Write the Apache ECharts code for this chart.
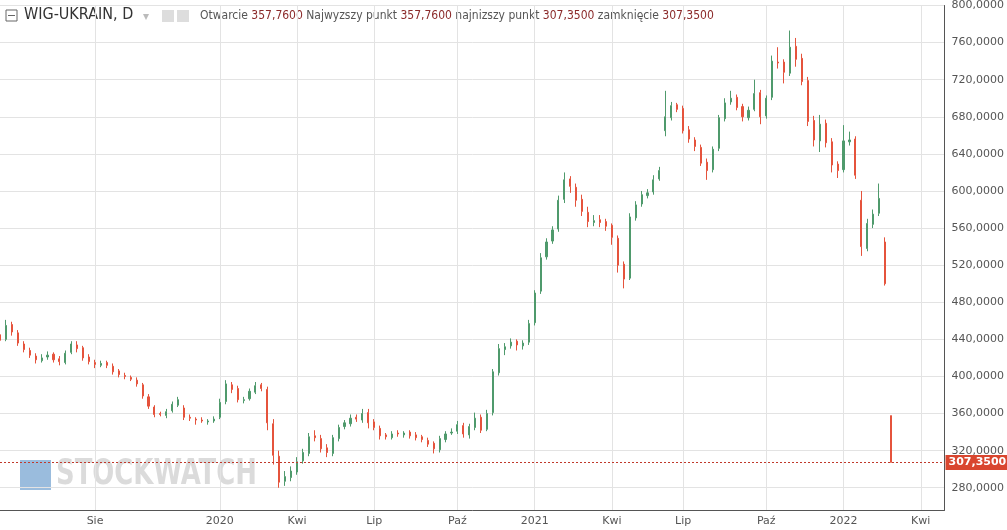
<!DOCTYPE html>
<html><head><meta charset="utf-8">
<script src="https://cdn.jsdelivr.net/npm/echarts@6/dist/echarts.min.js"></script>
<style>html,body{margin:0;padding:0;background:#fff}#c{width:1007px;height:530px}</style>
</head><body><div id="c"></div>
<script>
const opens = [445,440,456,447,435,428,422,417,421,424, 419,415,426,434,431,421,415,412,415,411, 406,401,399,396,391,378,367,360,358,363, 369,366,356,354,353,351,352,356,373,391, 387,374,376,383,391,386,349,314,287,291, 297,309,317,336,333,323,317,333,346,349, 356,353,361,351,344,337,334,339,337,340, 337,335,331,328,321,332,339,341,347,337, 345,356,343,361,404,429,433,438,433,437, 458,492,529,546,559,591,613,604,591,577, 566,569,567,563,549,521,506,571,586,595, 599,613,665,679,693,689,666,655,647,631, 623,646,678,696,701,691,679,688,706,681, 701,739,739,727,756,743,719,676,654,673, 653,629,623,653,656,590,538,564,576,545, 357.76];
const closes = [439,455,448,436,429,423,418,420,423,418, 416,425,435,430,420,416,413,414,412,405, 402,400,397,392,379,368,359,359,362,370, 375,356,355,353,352,352,354,372,392,386, 375,375,384,390,387,350,315,286,292,298, 308,318,335,334,322,318,334,345,350,355, 354,360,350,345,336,335,338,338,339,336, 334,332,327,322,333,338,340,348,338,346, 355,342,360,405,430,432,437,434,436,457, 490,528,545,558,590,612,605,590,578,567, 568,566,562,550,520,505,572,585,596,598, 612,622,680,692,688,665,656,648,630,622, 645,679,695,700,690,680,687,705,680,700, 740,738,728,755,742,718,675,655,672,652, 628,622,654,655,617,540,565,575,592,500, 307.35];
const highs = [450,461,459,450,438,431,425,424,427,426, 422,428,438,438,433,424,418,417,417,414, 408,404,401,399,393,381,369,362,365,373, 378,369,359,356,356,354,357,376,396,394, 390,378,387,394,393,389,354,320,298,303, 313,322,339,342,337,327,337,348,353,359, 359,365,365,354,347,339,341,342,341,342, 340,337,334,330,336,341,344,352,350,349, 361,359,364,408,435,436,441,440,439,461, 493,533,549,562,595,620,616,608,596,583, 574,574,570,565,552,524,576,589,600,602, 617,626,708,696,695,692,670,658,650,635, 648,682,700,708,704,694,691,720,709,703, 746,755,742,773,765,748,723,681,682,677, 657,632,671,664,659,600,570,580,608,550, 357.76];
const lows = [436,438,444,433,426,420,414,415,418,415, 412,413,424,426,417,413,409,410,409,402, 399,397,395,389,376,365,356,357,355,361, 367,353,352,348,350,348,350,354,370,382, 372,371,374,381,384,342,305,280,282,287, 294,306,314,330,318,313,314,330,343,346, 351,350,344,342,332,332,332,335,334,333, 331,329,324,317,318,329,337,338,334,333, 342,339,341,358,401,423,430,428,429,434, 455,489,526,543,556,587,598,583,573,561, 562,561,557,542,512,495,504,568,583,592, 596,611,659,676,685,662,652,643,627,612, 620,643,675,693,687,675,676,686,672,678, 698,732,716,724,734,714,670,648,642,647, 620,614,620,649,613,530,535,560,573,498, 307.35];
const slotCount = 160;
const tickSlots = [16,37,50,63,77,90,103,115,129,142,155];
const tickNames = ['Sie','2020','Kwi','Lip','Paź','2021','Kwi','Lip','Paź','2022','Kwi'];
const lastPrice = 307.35;

const cats = [];
const start = new Date(Date.UTC(2019,3,15));
for (let i=0;i<slotCount;i++){ const d=new Date(start.getTime()+i*7*86400000); cats.push(d.toISOString().slice(0,10)); }
const data = cats.map((c,i)=> i<closes.length ? [opens[i],closes[i],lows[i],highs[i]] : '-');
const fmt = v => v.toFixed(4).replace('.',',');
const isTick = i => tickSlots.indexOf(i) >= 0;
const CF = '"DejaVu Sans Condensed", "Liberation Sans Narrow", "DejaVu Sans"';

const chart = echarts.init(document.getElementById('c'));
chart.setOption({
  animation:false,
  grid:{left:0,right:59,top:2,bottom:20},
  xAxis:{type:'category',data:cats,boundaryGap:false,
    axisLine:{lineStyle:{color:'#555'}},axisTick:{show:false},
    axisLabel:{interval:(i)=>isTick(i),formatter:(v,i)=>{const k=tickSlots.indexOf(i);return k>=0?tickNames[k]:'';},color:'#555',fontSize:11,fontFamily:'DejaVu Sans',margin:6},
    splitLine:{show:true,interval:(i)=>isTick(i),lineStyle:{color:'#e3e3e3'}}},
  yAxis:{type:'value',position:'right',min:256,max:800,interval:8,
    axisLine:{show:true,lineStyle:{color:'#555'}},axisTick:{show:false},
    axisLabel:{formatter:v=> (v%40===0)? fmt(v):'',color:'#555',fontSize:11,fontFamily:'DejaVu Sans',margin:7},
    splitLine:{show:true,lineStyle:{color:['none','none','none','#e3e3e3','none']}}},
  series:[{type:'candlestick',data:data,barWidth:1.6,
    itemStyle:{color:'#4f9a6c',color0:'#e5533c',borderColor:'#4f9a6c',borderColor0:'#e5533c',borderWidth:1},
    markLine:{symbol:'none',silent:true,data:[{yAxis:lastPrice}],
      lineStyle:{color:'#c0392b',type:[2,2],width:1},
      label:{position:'end',formatter:fmt(lastPrice),color:'#fff',fontWeight:'bold',fontSize:11,fontFamily:'DejaVu Sans',backgroundColor:'#d9462f',padding:[2,3],distance:1}}}],
  graphic:[
    {type:'rect',shape:{x:6,y:10,width:11,height:11},style:{fill:'#fff',stroke:'#666',lineWidth:1}},
    {type:'line',shape:{x1:8,y1:15.5,x2:15,y2:15.5},style:{stroke:'#666',lineWidth:1}},
    {type:'text',left:24,top:7,style:{text:'WIG-UKRAIN, D',fill:'#333',font:'16px '+CF}},
    {type:'text',left:143,top:11,style:{text:'▾',fill:'#bbb',font:'12px "DejaVu Sans"'}},
    {type:'rect',shape:{x:162,y:10,width:12,height:12},style:{fill:'#ddd'}},
    {type:'rect',shape:{x:177,y:10,width:12,height:12},style:{fill:'#ddd'}},
    {type:'text',left:200,top:10,style:{
      text:'{l|Otwarcie }{v|357,7600}{l| Najwyzszy punkt }{v|357,7600}{l| najnizszy punkt }{v|307,3500}{l| zamknięcie }{v|307,3500}',
      rich:{l:{fill:'#555',font:'12px '+CF},v:{fill:'#8b2a2a',font:'12px '+CF}}}},
    {type:'rect',shape:{x:20,y:460,width:31,height:30},style:{fill:'#6f9fcf',opacity:0.7}},
    {type:'text',x:56,y:457,scaleX:0.8,style:{text:'STOCKWATCH',fill:'rgba(190,190,190,0.55)',font:'bold 36px '+CF}}
  ]
});
</script></body></html>
